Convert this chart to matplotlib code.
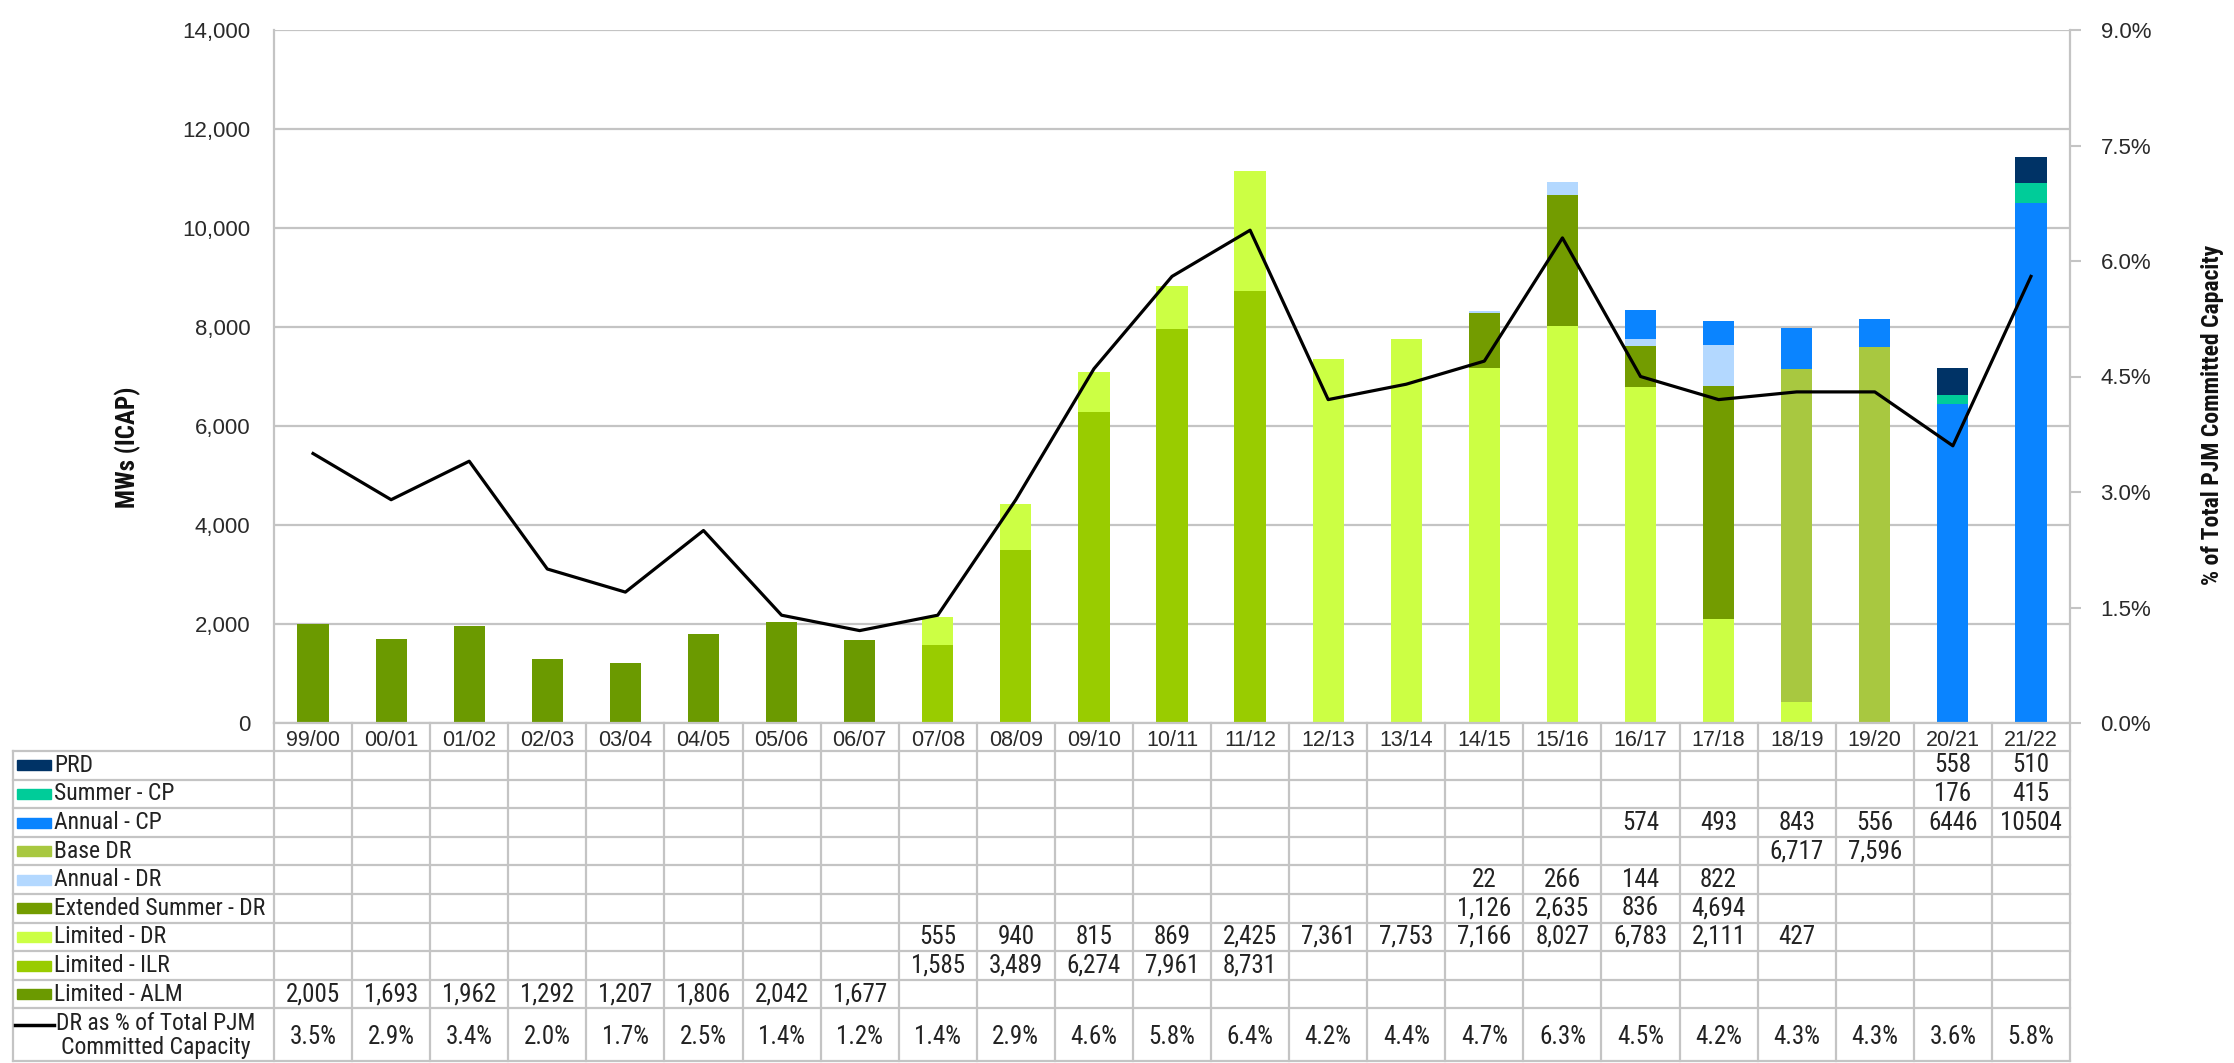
import numpy as np
import matplotlib
matplotlib.use("Agg")
import matplotlib.pyplot as plt
from matplotlib.transforms import blended_transform_factory
from matplotlib.lines import Line2D
from matplotlib.patches import Rectangle

# delivery years
years = ['99/00', '00/01', '01/02', '02/03', '03/04', '04/05', '05/06', '06/07',
         '07/08', '08/09', '09/10', '10/11', '11/12', '12/13', '13/14', '14/15',
         '15/16', '16/17', '17/18', '18/19', '19/20', '20/21', '21/22']

N = None
prd           = [N]*21 + [558, 510]
summer_cp     = [N]*21 + [176, 415]
annual_cp     = [N]*17 + [574, 493, 843, 556, 6446, 10504]
base_dr       = [N]*19 + [6717, 7596, N, N]
annual_dr     = [N]*15 + [22, 266, 144, 822, N, N, N, N]
ext_summer_dr = [N]*15 + [1126, 2635, 836, 4694, N, N, N, N]
limited_dr    = [N]*8 + [555, 940, 815, 869, 2425, 7361, 7753, 7166, 8027, 6783, 2111, 427, N, N, N]
limited_ilr   = [N]*8 + [1585, 3489, 6274, 7961, 8731] + [N]*10
limited_alm   = [2005, 1693, 1962, 1292, 1207, 1806, 2042, 1677] + [N]*15
dr_pct = [3.5, 2.9, 3.4, 2.0, 1.7, 2.5, 1.4, 1.2, 1.4, 2.9, 4.6, 5.8, 6.4,
          4.2, 4.4, 4.7, 6.3, 4.5, 4.2, 4.3, 4.3, 3.6, 5.8]

# stacking order bottom -> top (name, values, colour, thousands separator in table)
series = [
    ('Limited - ALM', limited_alm, '#6b9a00', True),
    ('Limited - ILR', limited_ilr, '#99cc00', True),
    ('Limited - DR', limited_dr, '#ccff44', True),
    ('Extended Summer - DR', ext_summer_dr, '#739c00', True),
    ('Annual - DR', annual_dr, '#b3d8ff', True),
    ('Base DR', base_dr, '#a8c840', True),
    ('Annual - CP', annual_cp, '#0a84ff', False),
    ('Summer - CP', summer_cp, '#00cc99', True),
    ('PRD', prd, '#003366', True),
]

narrow = ['Liberation Sans Narrow', 'Arial Narrow', 'Roboto Condensed',
          'Archivo Narrow', 'PT Sans Narrow', 'Liberation Sans']

W, H = 2234, 1063
L, R, T, B = 274, 2070, 30, 723
fig = plt.figure(figsize=(W / 100, H / 100), dpi=100)
ax = fig.add_axes([L / W, (H - B) / H, (R - L) / W, (B - T) / H])

x = np.arange(len(years))
bottom = np.zeros(len(years))
for name, vals, col, _ in series:
    v = np.array([0 if a is None else a for a in vals], dtype=float)
    ax.bar(x, v, 0.4, bottom=bottom, color=col, linewidth=0, zorder=2)
    bottom += v

ax.set_xlim(-0.5, len(years) - 0.5)
ax.set_ylim(0, 14000)
ax.set_yticks(range(0, 14001, 2000))
ax.set_yticklabels(['{:,}'.format(v) for v in range(0, 14001, 2000)])
ax.yaxis.grid(True, color='#c4c4c4', lw=1.6, zorder=0)
ax.set_axisbelow(True)
ax.tick_params(axis='y', length=0, pad=17, labelsize=16, labelcolor='#2a2a2a')
ax.set_xticks(x)
ax.set_xticklabels(years)
ax.tick_params(axis='x', length=0, pad=5, labelsize=15.5, labelcolor='#2a2a2a')
for s in ['top', 'right']:
    ax.spines[s].set_visible(False)
for s in ['left', 'bottom']:
    ax.spines[s].set_color('#c4c4c4')
    ax.spines[s].set_linewidth(1.6)
for lab in ax.get_xticklabels() + ax.get_yticklabels():
    lab.set_family('Liberation Sans')

ax2 = ax.twinx()
ax2.plot(x, dr_pct, color='black', lw=2.3, zorder=5)
ax2.set_ylim(0, 9)
pt = np.arange(0, 9.01, 1.5)
ax2.set_yticks(pt)
ax2.set_yticklabels(['{:.1f}%'.format(v) for v in pt], family='Liberation Sans')
ax2.tick_params(axis='y', length=8, width=1.5, color='#c4c4c4', pad=14,
                labelsize=16, labelcolor='#2a2a2a')
for s in ['top', 'left', 'bottom']:
    ax2.spines[s].set_visible(False)
ax2.spines['right'].set_color('#c4c4c4')
ax2.spines['right'].set_linewidth(1.6)

fig.text(128 / W, 1 - 447 / H, 'MWs (ICAP)', rotation=90, ha='center', va='center',
         fontsize=18, fontweight='bold', family=narrow, color='#111111')
fig.text(2212 / W, 1 - 415 / H, '% of Total PJM Committed Capacity', rotation=90,
         ha='center', va='center', fontsize=17, fontweight='bold', family=narrow,
         color='#111111')

# data table below the chart, drawn in pixel rows, category columns
tab = fig.add_axes([0, 0, 1, 1])
tab.set_xlim(0, W)
tab.set_ylim(H, 0)
tab.axis('off')
tab.patch.set_visible(False)
bt = blended_transform_factory(ax.transData, tab.transData)

gc = '#c4c4c4'
top = 751
rh = 28.6
nrows = len(series)
bot_rows = top + nrows * rh
tbl_bot = 1061
x0 = 13

# category label row separators
for i in range(len(years) + 1):
    tab.add_line(Line2D([i - 0.5, i - 0.5], [B, tbl_bot], color=gc, lw=1.6,
                        transform=bt, clip_on=False))
# horizontal rules
ys = [top + k * rh for k in range(nrows + 1)] + [tbl_bot]
for y in ys:
    tab.add_line(Line2D([x0, R], [y, y], color=gc, lw=1.6, clip_on=False))
tab.add_line(Line2D([x0, x0], [top, tbl_bot], color=gc, lw=1.6, clip_on=False))

tc = '#222222'
fs = 17
fsn = 18
for k, (name, vals, col, comma) in enumerate(series[::-1]):
    yc = top + (k + 0.5) * rh
    tab.add_patch(Rectangle((17, yc - 5), 34, 10, color=col, clip_on=False))
    tab.text(54, yc, name, ha='left', va='center', fontsize=fs, family=narrow,
             color=tc)
    for i, v in enumerate(vals):
        if v is None:
            continue
        s = '{:,}'.format(v) if comma else str(v)
        tab.text(i, yc, s, ha='center', va='center', fontsize=fsn, family=narrow,
                 color=tc, transform=bt, clip_on=False)

yc = (bot_rows + tbl_bot) / 2
tab.add_line(Line2D([15, 54], [bot_rows + 17, bot_rows + 17], color='black', lw=2.5,
                    clip_on=False))
tab.text(156, yc + 1, 'DR as % of Total PJM\nCommitted Capacity', ha='center', va='center',
         fontsize=fs, family=narrow, color=tc, linespacing=1.05)
for i, v in enumerate(dr_pct):
    tab.text(i, yc + 2, '{:.1f}%'.format(v), ha='center', va='center', fontsize=fsn,
             family=narrow, color=tc, transform=bt, clip_on=False)

fig.savefig('out.png', dpi=100)
